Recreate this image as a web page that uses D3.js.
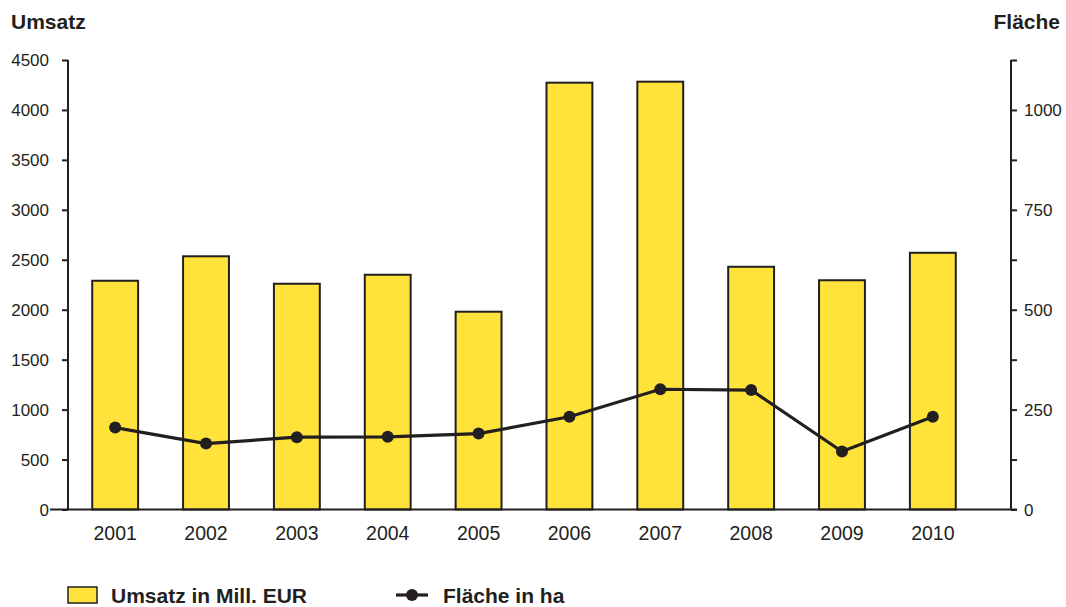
<!DOCTYPE html>
<html>
<head>
<meta charset="utf-8">
<script src="https://cdn.jsdelivr.net/npm/d3@7"></script>
<style>
  html, body { margin: 0; padding: 0; background: #fff; }
  svg { display: block; font-family: "Liberation Sans", Arial, sans-serif; }
</style>
</head>
<body>
<svg id="chart" width="1066" height="607"></svg>
<script>
// Jahre, Umsatz (Mill. EUR) und Fläche (ha)
const years = ["2001", "2002", "2003", "2004", "2005", "2006", "2007", "2008", "2009", "2010"];
const umsatz = [2290, 2535, 2260, 2350, 1980, 4273, 4283, 2430, 2295, 2570];
const flaeche = [205, 165, 181, 182, 190, 232, 301, 299, 145, 232];
const leftTicks = [0, 500, 1000, 1500, 2000, 2500, 3000, 3500, 4000, 4500];
const rightTicks = [0, 125, 250, 375, 500, 625, 750, 875, 1000, 1125];
const rightLabels = [0, 250, 500, 750, 1000];

const ink = "#231f20";
const yellow = "#ffe23a";

const svg = d3.select("#chart");

const x = d3.scaleBand().domain(years).range([69.5, 978.5]).paddingInner(0.495).paddingOuter(0.25);
const yL = d3.scaleLinear().domain([0, 4500]).range([509.5, 60]);
const yR = d3.scaleLinear().domain([0, 1125]).range([509.5, 60]);

const axisLeftX = 68, axisRightX = 1011;

// Bars
svg.append("g").selectAll("rect")
  .data(years)
  .join("rect")
  .attr("x", d => x(d))
  .attr("width", x.bandwidth())
  .attr("y", (d, i) => yL(umsatz[i]))
  .attr("height", (d, i) => yL(0) - yL(umsatz[i]))
  .attr("fill", yellow)
  .attr("stroke", ink)
  .attr("stroke-width", 2);

// Left axis
const gL = svg.append("g").attr("transform", `translate(${axisLeftX},0)`)
  .call(d3.axisLeft(yL).tickValues(leftTicks).tickSize(6).tickPadding(13).tickFormat(d3.format("d")));
gL.select(".domain").attr("stroke", ink).attr("stroke-width", 2).attr("d", `M0,${yL(4500)}V${yL(0)}`);
gL.selectAll(".tick line").attr("stroke", ink).attr("stroke-width", 2);
gL.selectAll(".tick text").attr("fill", ink).style("font-size", "17px").attr("dy", "0.35em");

// Right axis
const gR = svg.append("g").attr("transform", `translate(${axisRightX},0)`)
  .call(d3.axisRight(yR).tickValues(rightTicks).tickSize(6).tickPadding(7)
    .tickFormat(d => rightLabels.includes(d) ? d3.format("d")(d) : ""));
gR.select(".domain").attr("stroke", ink).attr("stroke-width", 2).attr("d", `M0,${yR(1125)}V${yR(0)}`);
gR.selectAll(".tick line").attr("stroke", ink).attr("stroke-width", 2);
gR.selectAll(".tick text").attr("fill", ink).style("font-size", "17px").attr("dy", "0.35em");

// Baseline
svg.append("line")
  .attr("x1", 50).attr("x2", axisRightX + 6)
  .attr("y1", yL(0)).attr("y2", yL(0))
  .attr("stroke", ink).attr("stroke-width", 2);

// Category labels
const gX = svg.append("g").attr("transform", `translate(0,${yL(0)})`)
  .call(d3.axisBottom(x).tickSize(0).tickPadding(17));
gX.select(".domain").remove();
gX.selectAll(".tick text").attr("fill", ink).style("font-size", "19.5px").attr("dy", "0.71em");

// Line: Fläche
const line = d3.line()
  .x((d, i) => x(years[i]) + x.bandwidth() / 2)
  .y(d => yR(d));
svg.append("path")
  .datum(flaeche)
  .attr("d", line)
  .attr("fill", "none")
  .attr("stroke", ink)
  .attr("stroke-width", 3.2);
svg.append("g").selectAll("circle")
  .data(flaeche)
  .join("circle")
  .attr("cx", (d, i) => x(years[i]) + x.bandwidth() / 2)
  .attr("cy", d => yR(d))
  .attr("r", 6)
  .attr("fill", ink);

// Axis titles
svg.append("text").attr("x", 11).attr("y", 29)
  .attr("fill", ink).style("font-size", "21px").style("font-weight", "bold")
  .text("Umsatz");
svg.append("text").attr("x", 1060).attr("y", 29).attr("text-anchor", "end")
  .attr("fill", ink).style("font-size", "21px").style("font-weight", "bold")
  .text("Fläche");

// Legend
const leg = svg.append("g");
leg.append("rect").attr("x", 68).attr("y", 587).attr("width", 29).attr("height", 16)
  .attr("fill", yellow).attr("stroke", ink).attr("stroke-width", 1.5);
leg.append("text").attr("x", 111).attr("y", 603)
  .attr("fill", ink).style("font-size", "21px").style("font-weight", "bold")
  .text("Umsatz in Mill. EUR");
leg.append("line").attr("x1", 396).attr("x2", 428).attr("y1", 595).attr("y2", 595)
  .attr("stroke", ink).attr("stroke-width", 3.2);
leg.append("circle").attr("cx", 412).attr("cy", 595).attr("r", 6).attr("fill", ink);
leg.append("text").attr("x", 443).attr("y", 603)
  .attr("fill", ink).style("font-size", "21px").style("font-weight", "bold")
  .text("Fläche in ha");
</script>
</body>
</html>
